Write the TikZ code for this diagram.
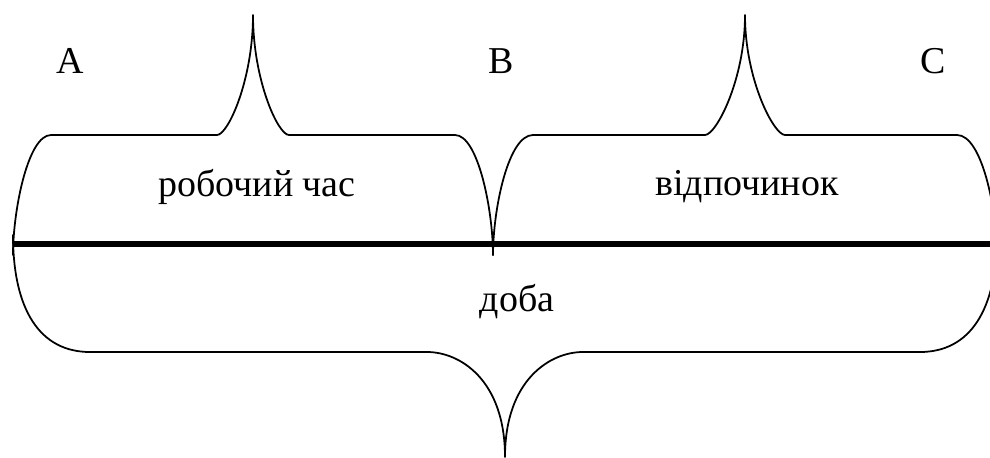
\documentclass[tikz,border=0pt]{standalone}
\usepackage{fontspec}
\setmainfont{Liberation Serif}
\usepackage{tikz}
\tikzset{
  every picture/.style={
    line join=round,
    line cap=round,
  },
  curly/.style={line width=1pt},
  timeline/.style={line width=3.7pt, line cap=butt},
  lbl/.style={anchor=base, inner sep=0pt, font=\fontsize{21.6pt}{26pt}\selectfont},
}

\begin{document}
\begin{tikzpicture}
    \useasboundingbox (0,0) rectangle (19.8,9.14);
    \clip (0,0) rectangle (19.8,9.14);
    % Time line
    \draw[timeline] (0.26,4.26) -- (20,4.26);
    % Upper left brace
    \draw[curly] (0.26,4.04) .. controls (0.26,4.94) and (0.56,6.44) .. (1.02,6.44)
        -- (4.34,6.44) .. controls (4.56,6.44) and (5.06,7.54) .. (5.06,8.84)
        .. controls (5.06,7.54) and (5.56,6.44) .. (5.78,6.44)
        -- (9.1,6.44) .. controls (9.56,6.44) and (9.86,4.94) .. (9.86,4.04);
    % Upper right brace
    \draw[curly] (9.86,4.04) .. controls (9.86,4.94) and (10.16,6.44) .. (10.66,6.44)
        -- (14.1,6.44) .. controls (14.32,6.44) and (14.9,7.54) .. (14.9,8.84)
        .. controls (14.9,7.54) and (15.48,6.44) .. (15.7,6.44)
        -- (19.14,6.44) .. controls (19.64,6.44) and (19.94,4.94) .. (19.94,4.04);
    % Lower brace
    \draw[curly] (0.26,4.44) .. controls (0.26,2.94) and (0.8,2.1) .. (1.8,2.1)
        -- (8.54,2.1) .. controls (9.2,2.1) and (10.1,1.54) .. (10.1,0)
        .. controls (10.1,1.54) and (11.0,2.1) .. (11.66,2.1)
        -- (18.4,2.1) .. controls (19.4,2.1) and (19.94,2.94) .. (19.94,4.44);
    % Points
    \node[lbl] (ptA) at (1.4,7.68) {A};
    \node[lbl] (ptB) at (10.02,7.68) {B};
    \node[lbl] (ptC) at (18.66,7.68) {C};
    % Intervals
    \node[lbl] (work) at (5.14,5.22) {робочий час};
    \node[lbl] (rest) at (14.94,5.24) {відпочинок};
    \node[lbl] (day) at (10.34,2.92) {доба};
\end{tikzpicture}
\end{document}
